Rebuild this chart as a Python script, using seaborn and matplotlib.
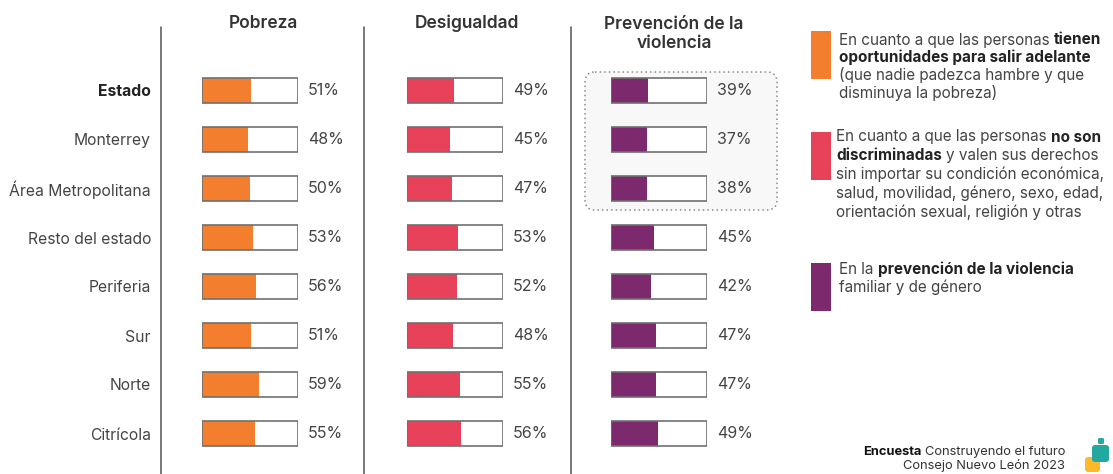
import matplotlib
matplotlib.use("agg")
import matplotlib.pyplot as plt
import matplotlib.transforms as mtransforms
from matplotlib.patches import FancyBboxPatch, Rectangle
from matplotlib.lines import Line2D
import seaborn as sns

regiones = ['Estado', 'Monterrey', 'Área Metropolitana', 'Resto del estado',
            'Periferia', 'Sur', 'Norte', 'Citrícola']
pobreza = [51, 48, 50, 53, 56, 51, 59, 55]
desigualdad = [49, 45, 47, 53, 52, 48, 55, 56]
prevencion = [39, 37, 38, 45, 42, 47, 47, 49]
total = [100] * len(regiones)

titulos = ['Pobreza', 'Desigualdad', 'Prevención de la\nviolencia']
colores = ['#F37F2E', '#E8425A', '#7C296E']

sns.set_style("white")
plt.rcParams['font.family'] = ['Inter', 'DejaVu Sans']

W, H = 1113, 474
fig = plt.figure(figsize=(W / 100, H / 100), dpi=100)
fig.patch.set_facecolor('white')
# pixel coordinates, origin at top-left
px = mtransforms.Affine2D().scale(1 / 100, -1 / 100).translate(0, H / 100) + fig.dpi_scale_trans

rowGap = 49
firstRow = 90.5
axTop = firstRow - rowGap / 2
axHeight = rowGap * len(regiones)

# dotted highlight box behind the first three rows of the third panel
fig.add_artist(FancyBboxPatch((585, 72), 192, 138, boxstyle="round,pad=0,rounding_size=10",
                              transform=px, facecolor='#f8f8f8', edgecolor='#8a8a8a',
                              linestyle=(0, (1, 2)), linewidth=1.1, zorder=-1))

# vertical separators
for xLine in [161, 364, 571]:
    fig.add_artist(Line2D([xLine, xLine], [27, 474], transform=px, color='#555555', lw=1.1))

panelLefts = [202, 407, 611]
titleX = [263, 467, 674]
series = [pobreza, desigualdad, prevencion]

for k, (vals, color, left) in enumerate(zip(series, colores, panelLefts)):
    ax = fig.add_axes([left / W, 1 - (axTop + axHeight) / H, 96 / W, axHeight / H])
    ax.patch.set_alpha(0)
    sns.barplot(x=total, y=regiones, color='white', saturation=1, width=0.53,
                errorbar=None, linewidth=0, ax=ax, zorder=1)
    sns.barplot(x=vals, y=regiones, color=color, saturation=1, width=0.53,
                errorbar=None, linewidth=0, ax=ax, zorder=2)
    sns.barplot(x=total, y=regiones, color='#707070', fill=False, width=0.53,
                errorbar=None, linewidth=1.2, ax=ax, zorder=3)
    ax.set_xlim(0, 100)
    ax.set_ylim(len(regiones) - 0.5, -0.5)
    for i, v in enumerate(vals):
        ax.text(110.5, i, f"{v}%", va='center', ha='left', fontsize=11.5,
                color='#444444', clip_on=False)
    for s in ax.spines.values():
        s.set_visible(False)
    ax.set_xticks([])
    ax.set_xlabel('')
    ax.set_ylabel('')
    if k == 0:
        ax.set_yticks(range(len(regiones)), regiones)
        ax.tick_params(axis='y', length=0, pad=51 * 0.72, labelsize=11.3, labelcolor='#444444')
        lab = ax.get_yticklabels()[0]
        lab.set_fontweight('bold')
        lab.set_color('#222222')
    else:
        ax.set_yticks([])
    fig.text(titleX[k], 23 if k < 2 else 34, titulos[k], transform=px, ha='center', va='center',
             fontsize=12.5, fontweight='semibold', color='#333333', linespacing=1.2)

renderer = fig.canvas.get_renderer()


def textWidth(t):
    return t.get_window_extent(renderer).width


probe1 = fig.text(0, 0, 'xx', fontsize=10)
probe2 = fig.text(0, 0, 'x x', fontsize=10)
spaceW = textWidth(probe2) - textWidth(probe1)
probe1.remove()
probe2.remove()


def richLine(x, y, parts, size=11):
    for txt, bold in parts:
        t = fig.text(x, y, txt, transform=px, va='center', ha='left', fontsize=size,
                     fontweight='bold' if bold else 'normal',
                     color='#222222' if bold else '#444444')
        x += textWidth(t) + spaceW * size / 10


legend = [
    (colores[0], 31, 839, [
        [('En cuanto a que las personas', False), ('tienen', True)],
        [('oportunidades para salir adelante', True)],
        [('(que nadie padezca hambre y que', False)],
        [('disminuya la pobreza)', False)],
    ], 40, 17.6),
    (colores[1], 132, 836, [
        [('En cuanto a que las personas', False), ('no son', True)],
        [('discriminadas', True), ('y valen sus derechos', False)],
        [('sin importar su condición económica,', False)],
        [('salud, movilidad, género, sexo, edad,', False)],
        [('orientación sexual, religión y otras', False)],
    ], 137, 18.7),
    (colores[2], 263, 839, [
        [('En la', False), ('prevención de la violencia', True)],
        [('familiar y de género', False)],
    ], 269, 18.5),
]
for color, yBox, xText, lines, yFirst, step in legend:
    fig.add_artist(Rectangle((811, yBox), 20, 48, transform=px, facecolor=color, edgecolor='none'))
    for j, parts in enumerate(lines):
        richLine(xText, yFirst + j * step, parts)

# footer
t = fig.text(1065, 452, 'Construyendo el futuro', transform=px, ha='right', va='center',
             fontsize=9.3, color='#333333')
fig.text(1065 - textWidth(t) - spaceW * 0.93, 452, 'Encuesta', transform=px, ha='right',
         va='center', fontsize=9.3, fontweight='bold', color='#111111')
fig.text(1065, 466, 'Consejo Nuevo León 2023', transform=px, ha='right', va='center',
         fontsize=9.3, color='#333333')

# logo
fig.add_artist(FancyBboxPatch((1085, 457), 15, 15, boxstyle="round,pad=0,rounding_size=3",
                              transform=px, facecolor='#FDB92A', edgecolor='none'))
fig.add_artist(FancyBboxPatch((1092, 445), 17, 17, boxstyle="round,pad=0,rounding_size=3",
                              transform=px, facecolor='#22A89E', edgecolor='none'))
fig.add_artist(FancyBboxPatch((1098, 438), 6, 6, boxstyle="round,pad=0,rounding_size=1.5",
                              transform=px, facecolor='#22A89E', edgecolor='none'))

fig.savefig('out.png', dpi=100)
